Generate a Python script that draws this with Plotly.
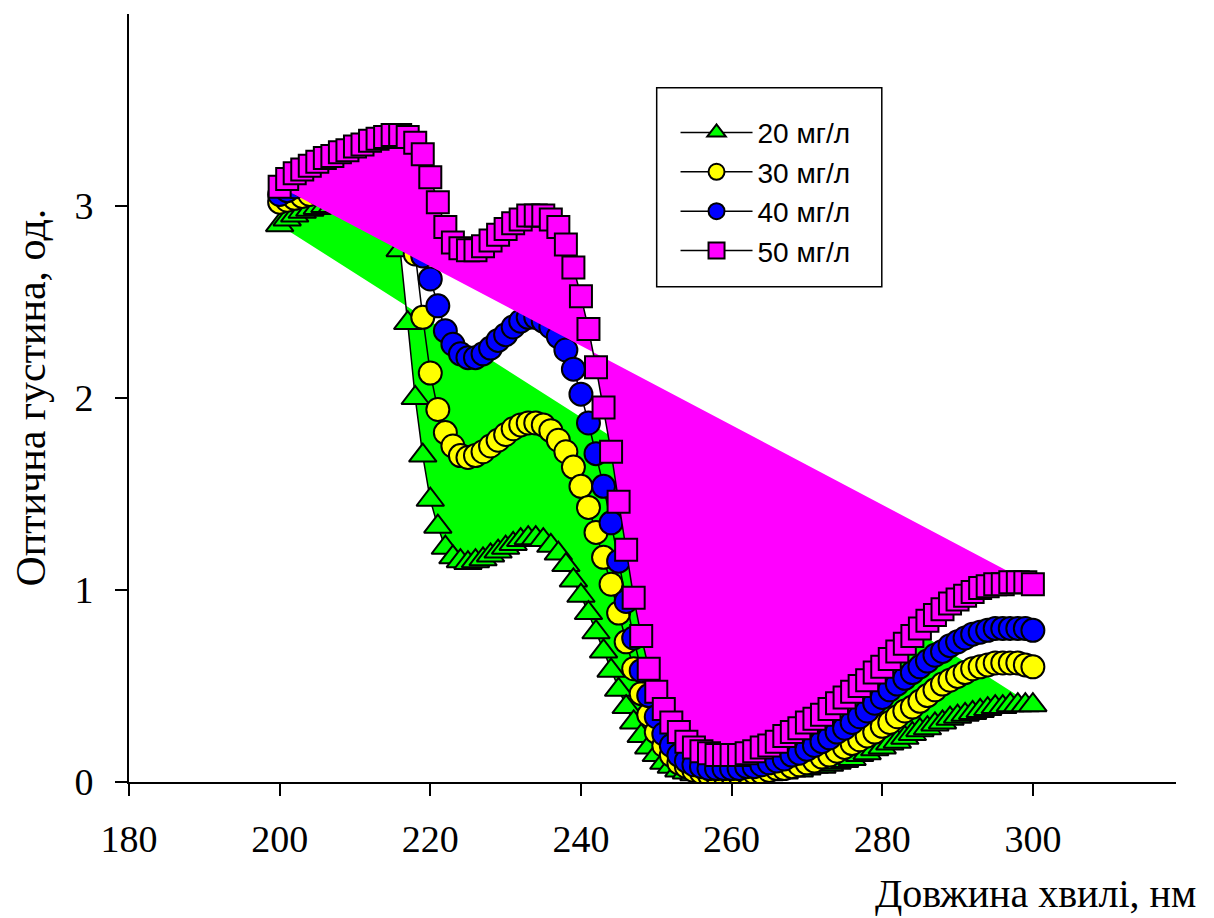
import plotly.graph_objects as go

wavelength = list(range(200, 301))

od_20 = [2.90, 2.93, 2.95, 2.97, 2.98, 2.99, 3.00, 3.00, 3.01, 3.01,
         3.01, 3.01, 3.01, 3.00, 2.98, 2.93, 2.77, 2.39, 2.00, 1.70,
         1.47, 1.33, 1.22, 1.17, 1.15, 1.14, 1.15, 1.16, 1.18, 1.20,
         1.22, 1.24, 1.26, 1.27, 1.27, 1.26, 1.23, 1.19, 1.13, 1.05,
         0.97, 0.88, 0.78, 0.68, 0.58, 0.48, 0.39, 0.31, 0.24, 0.18,
         0.14, 0.10, 0.08, 0.06, 0.05, 0.04, 0.04, 0.03, 0.03, 0.03,
         0.03, 0.03, 0.03, 0.04, 0.04, 0.04, 0.05, 0.05, 0.06, 0.06,
         0.07, 0.08, 0.08, 0.09, 0.10, 0.11, 0.12, 0.14, 0.15, 0.17,
         0.18, 0.20, 0.21, 0.23, 0.25, 0.27, 0.28, 0.30, 0.31, 0.33,
         0.34, 0.35, 0.36, 0.37, 0.38, 0.39, 0.39, 0.40, 0.40, 0.40,
         0.40]

od_30 = [3.02, 3.03, 3.04, 3.05, 3.06, 3.07, 3.08, 3.09, 3.10, 3.11,
         3.11, 3.12, 3.12, 3.13, 3.12, 3.10, 3.03, 2.92, 2.75, 2.42,
         2.13, 1.94, 1.82, 1.75, 1.70, 1.69, 1.70, 1.72, 1.75, 1.78,
         1.81, 1.84, 1.86, 1.87, 1.87, 1.86, 1.83, 1.78, 1.72, 1.64,
         1.54, 1.43, 1.30, 1.17, 1.03, 0.88, 0.73, 0.59, 0.46, 0.35,
         0.26, 0.19, 0.14, 0.10, 0.08, 0.06, 0.05, 0.04, 0.04, 0.04,
         0.04, 0.04, 0.05, 0.05, 0.05, 0.06, 0.07, 0.07, 0.08, 0.09,
         0.10, 0.11, 0.13, 0.14, 0.16, 0.18, 0.20, 0.22, 0.24, 0.26,
         0.29, 0.31, 0.34, 0.37, 0.39, 0.42, 0.45, 0.48, 0.51, 0.53,
         0.55, 0.57, 0.59, 0.60, 0.61, 0.62, 0.62, 0.62, 0.62, 0.61,
         0.60]

od_40 = [3.06, 3.08, 3.10, 3.11, 3.13, 3.14, 3.16, 3.17, 3.18, 3.19,
         3.20, 3.21, 3.22, 3.22, 3.22, 3.20, 3.15, 3.05, 2.90, 2.74,
         2.62, 2.48, 2.35, 2.28, 2.23, 2.21, 2.21, 2.23, 2.26, 2.30,
         2.33, 2.37, 2.40, 2.42, 2.42, 2.40, 2.37, 2.32, 2.25, 2.15,
         2.02, 1.87, 1.71, 1.54, 1.35, 1.15, 0.94, 0.75, 0.58, 0.45,
         0.34, 0.25, 0.19, 0.14, 0.11, 0.09, 0.08, 0.07, 0.07, 0.07,
         0.07, 0.07, 0.08, 0.08, 0.09, 0.10, 0.11, 0.12, 0.14, 0.15,
         0.17, 0.19, 0.21, 0.23, 0.26, 0.28, 0.31, 0.34, 0.37, 0.41,
         0.44, 0.48, 0.51, 0.54, 0.57, 0.60, 0.63, 0.66, 0.68, 0.71,
         0.73, 0.75, 0.77, 0.78, 0.79, 0.80, 0.80, 0.80, 0.80, 0.80,
         0.79]

od_50 = [3.10, 3.14, 3.17, 3.19, 3.21, 3.23, 3.25, 3.26, 3.28, 3.29,
         3.31, 3.32, 3.34, 3.35, 3.36, 3.37, 3.37, 3.36, 3.33, 3.27,
         3.15, 3.02, 2.89, 2.81, 2.78, 2.77, 2.77, 2.79, 2.82, 2.85,
         2.88, 2.91, 2.93, 2.95, 2.95, 2.95, 2.93, 2.89, 2.80, 2.68,
         2.53, 2.36, 2.16, 1.95, 1.72, 1.46, 1.21, 0.96, 0.76, 0.59,
         0.47, 0.38, 0.31, 0.26, 0.21, 0.18, 0.16, 0.15, 0.14, 0.14,
         0.14, 0.14, 0.15, 0.16, 0.18, 0.19, 0.21, 0.24, 0.26, 0.28,
         0.31, 0.33, 0.35, 0.38, 0.41, 0.44, 0.47, 0.50, 0.53, 0.57,
         0.60, 0.64, 0.68, 0.72, 0.76, 0.80, 0.84, 0.87, 0.90, 0.93,
         0.95, 0.97, 0.99, 1.01, 1.02, 1.03, 1.03, 1.04, 1.04, 1.04,
         1.03]

series_names = ["20 мг/л", "30 мг/л", "40 мг/л", "50 мг/л"]
series_values = [od_20, od_30, od_40, od_50]
series_colors = ["#00FF00", "#FFFF00", "#0000FF", "#FF00FF"]
series_symbols = ["triangle-up", "circle", "circle", "square"]
series_sizes = [24, 23, 23, 22]
series_filled = [True, False, False, True]

x_ticks = [180, 200, 220, 240, 260, 280, 300]
y_ticks = [0, 1, 2, 3]

fig = go.Figure()
for name, vals, col, sym, sz, filled in zip(series_names, series_values, series_colors,
                                            series_symbols, series_sizes, series_filled):
    if filled:
        fig.add_trace(go.Scatter(
            x=wavelength, y=vals, mode="lines", fill="toself", fillcolor=col,
            line=dict(width=0, color=col), hoverinfo="skip", showlegend=False))
    fig.add_trace(go.Scatter(
        x=wavelength, y=vals, mode="lines+markers", name=name,
        line=dict(color="black", width=1.5),
        marker=dict(symbol=sym, size=sz, color=col,
                    line=dict(color="black", width=2))))

serif = "Liberation Serif, Times New Roman, serif"
tick_font = dict(family=serif, size=38, color="black")

fig.update_layout(
    width=1214, height=918, autosize=False,
    margin=dict(l=129, r=38, t=14, b=136),
    paper_bgcolor="white", plot_bgcolor="white",
    showlegend=True,
    legend=dict(
        x=0.522, y=0.878, xanchor="left", yanchor="top",
        bgcolor="rgba(0,0,0,0)", borderwidth=0,
        font=dict(family="Liberation Sans, Arial, sans-serif", size=28, color="black"),
        itemwidth=72, tracegroupgap=0, itemsizing="trace"),
    xaxis=dict(range=[180, 319], tickmode="array", tickvals=x_ticks,
               showline=True, linecolor="black", linewidth=2,
               ticks="outside", ticklen=12, tickwidth=2, tickcolor="black",
               showgrid=False, zeroline=False, tickfont=tick_font,
               ticklabelstandoff=10),
    yaxis=dict(range=[0, 4], tickmode="array", tickvals=y_ticks,
               showline=True, linecolor="black", linewidth=2,
               ticks="outside", ticklen=12, tickwidth=2, tickcolor="black",
               showgrid=False, zeroline=False, tickfont=tick_font,
               ticklabelstandoff=14),
    shapes=[dict(type="rect", xref="paper", yref="paper",
                 x0=0.504, x1=0.719, y0=0.645, y1=0.904,
                 line=dict(color="black", width=1.5), fillcolor="rgba(0,0,0,0)")],
    annotations=[
        dict(text="Оптична густина, од.", xref="paper", yref="paper",
             x=-0.094, y=0.5, xanchor="center", yanchor="middle",
             textangle=-90, showarrow=False,
             font=dict(family=serif, size=42, color="black")),
        dict(text="Довжина хвилі, нм", xref="paper", yref="paper",
             x=1.021, y=-0.145, xanchor="right", yanchor="middle",
             showarrow=False, font=dict(family=serif, size=40, color="black")),
    ],
)

fig.write_html("out.html")
